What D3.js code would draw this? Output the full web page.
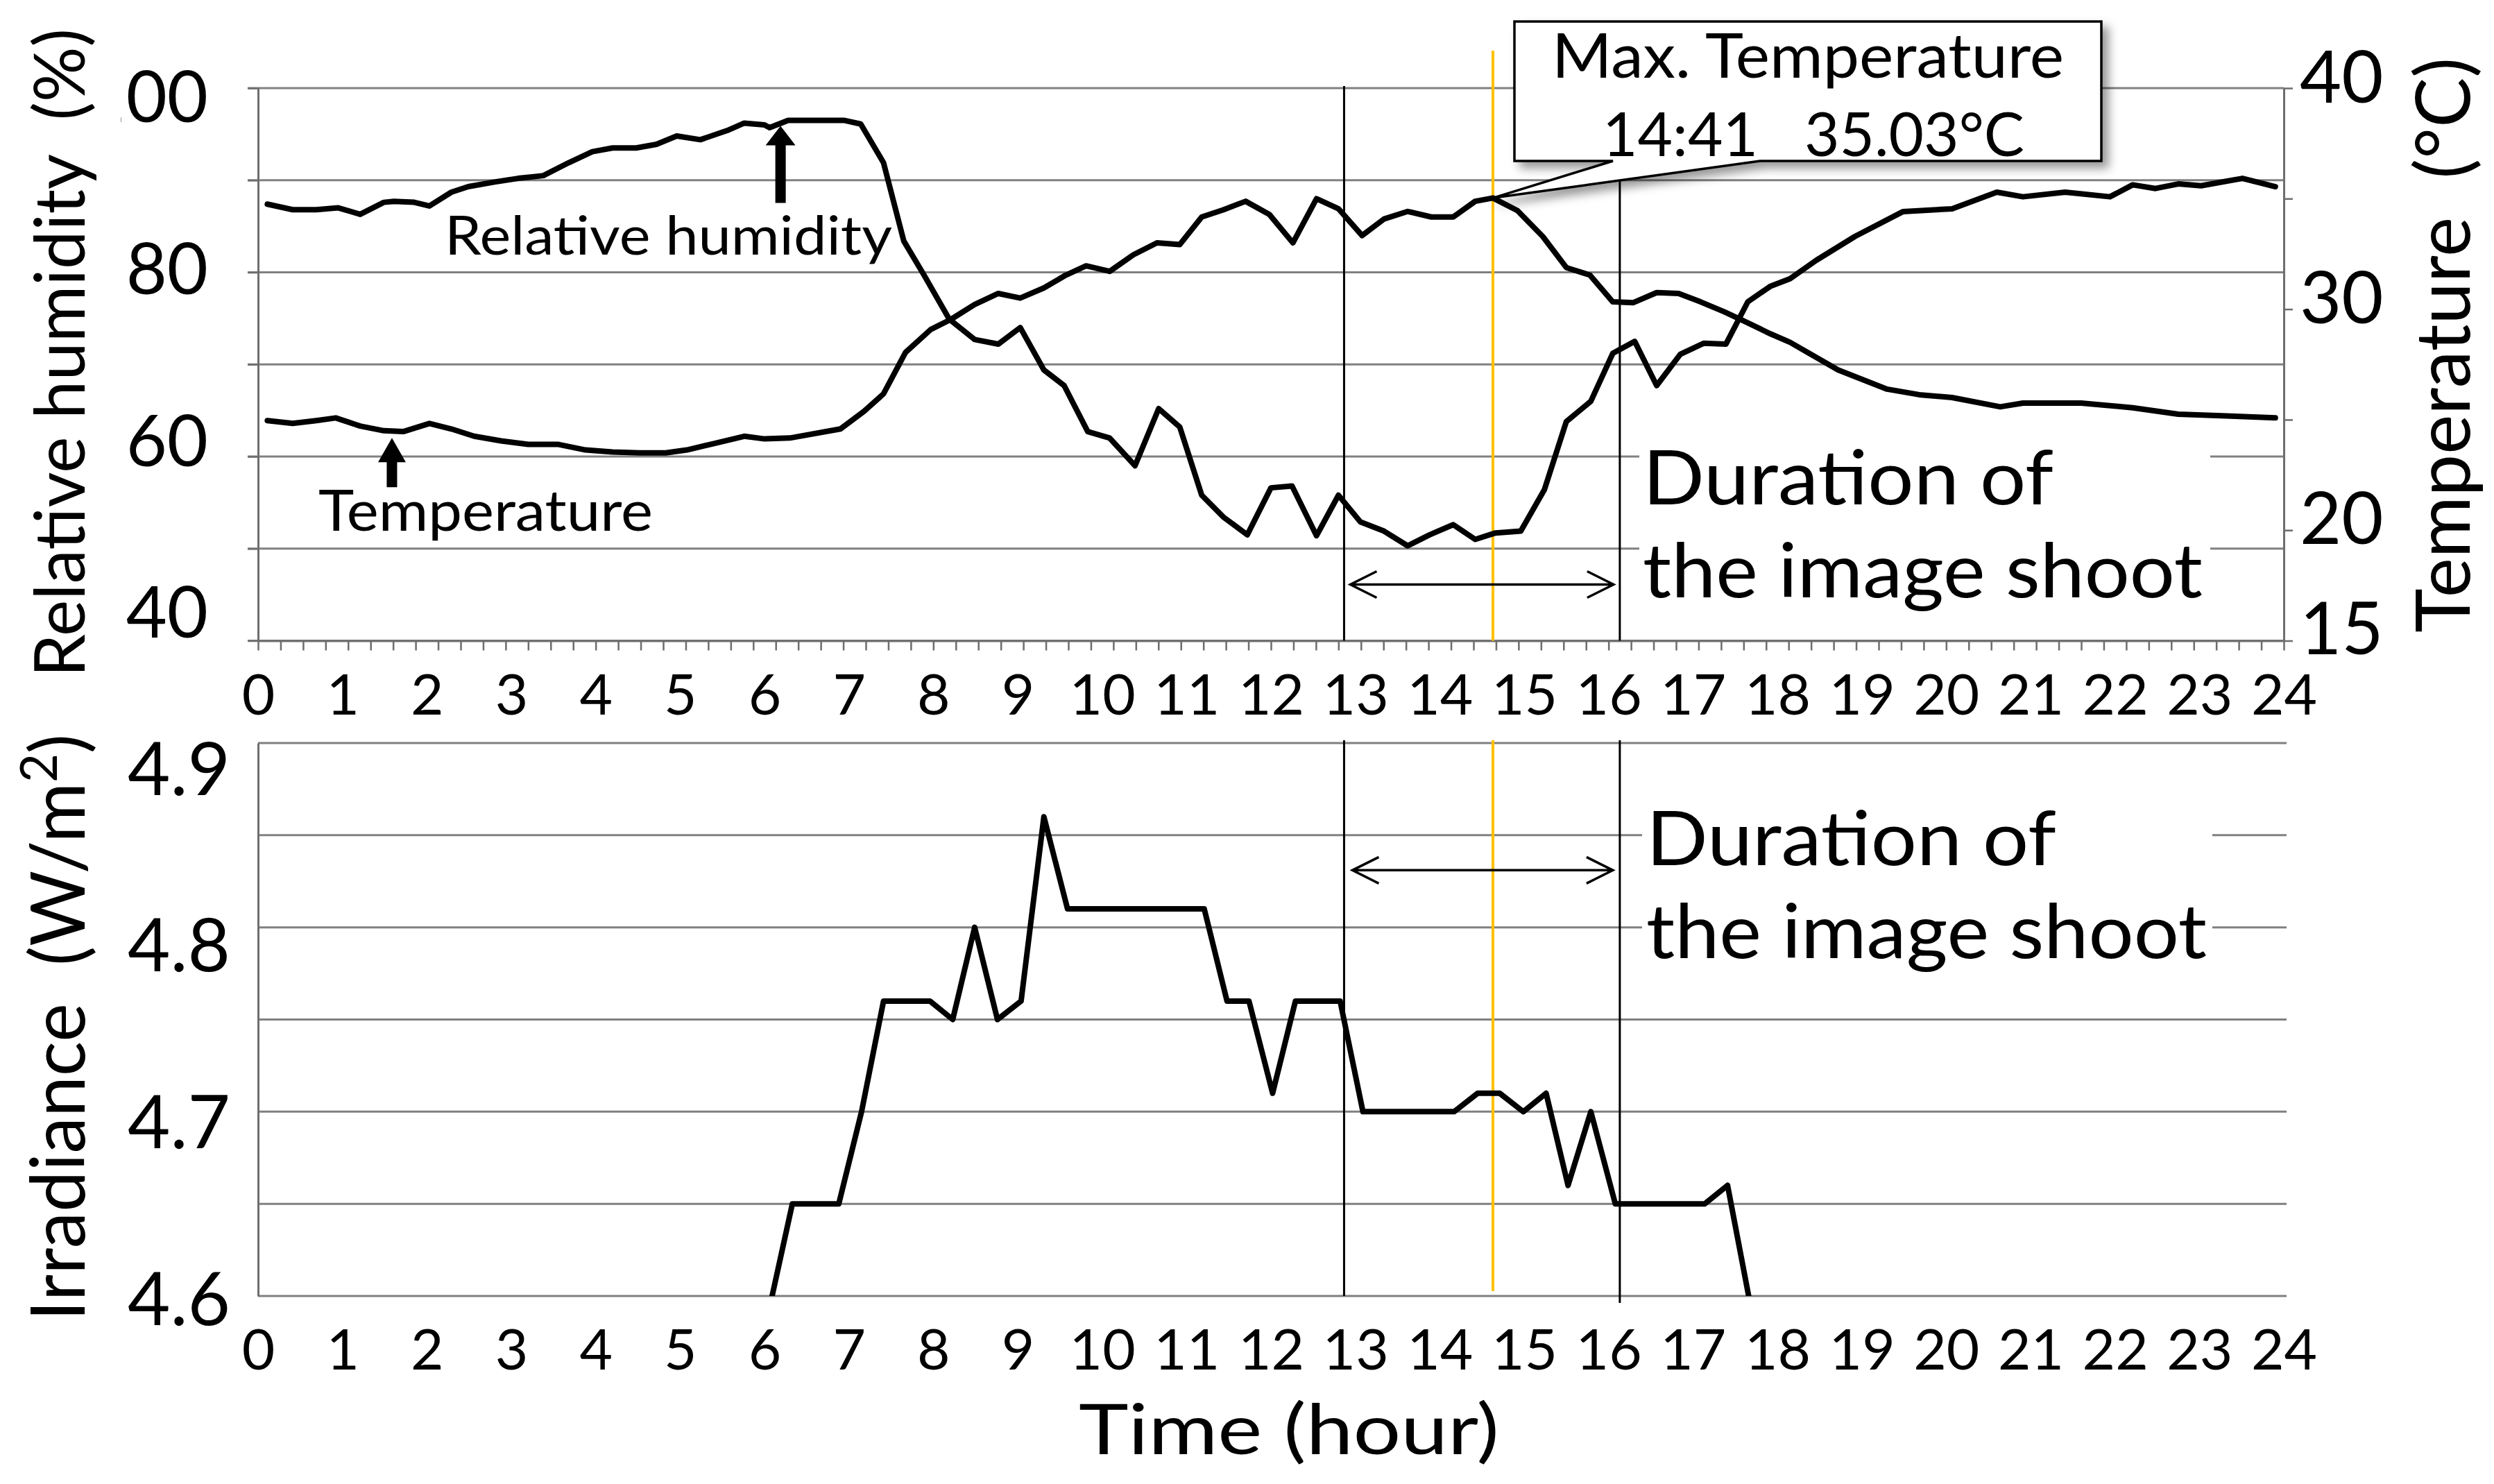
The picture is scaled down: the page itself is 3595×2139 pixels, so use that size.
<!DOCTYPE html>
<html><head><meta charset="utf-8">
<script src="https://cdn.jsdelivr.net/npm/d3@7"></script>
<style>
html,body{margin:0;padding:0;background:#fff;}
svg{display:block;}
text{font-family:Lato,"Noto Sans",sans-serif;fill:#000;}
</style></head><body>
<svg id="chart" width="3595" height="2139"></svg>
<script>
// ---------------- DATA ----------------
const rhTime  = [0.11,0.41,0.69,0.95,1.21,1.49,1.61,1.85,2.03,2.29,2.49,2.8,3.08,3.38,3.68,3.96,4.2,4.48,4.72,4.96,5.24,5.56,5.76,6.0,6.06,6.28,6.94,7.14,7.41,7.65,7.89,8.19,8.49,8.77,9.03,9.31,9.55,9.83,10.09,10.39,10.67,10.92,11.18,11.44,11.72,12.0,12.25,12.54,12.8,13.06,13.34,13.62,13.88,14.16,14.42,14.66,14.96,15.24,15.5,15.79,16.05,16.31,16.57,16.85,17.13,17.39,17.65,17.92,18.15,18.46,18.92,19.49,20.07,20.6,20.91,21.41,21.94,22.21,22.48,22.75,23.02,23.51,23.9];
const rhValue = [87.4,86.8,86.8,87.0,86.3,87.6,87.7,87.6,87.2,88.7,89.3,89.8,90.2,90.5,91.9,93.1,93.5,93.5,93.9,94.8,94.4,95.4,96.2,96.0,95.7,96.5,96.5,96.1,91.9,83.4,79.7,74.9,72.7,72.2,74.0,69.4,67.7,62.7,62.0,59.0,65.2,63.2,55.8,53.4,51.5,56.6,56.8,51.4,55.8,52.9,51.9,50.3,51.5,52.6,51.0,51.7,51.9,56.4,63.8,66.0,71.2,72.5,67.7,71.1,72.3,72.2,76.8,78.5,79.3,81.3,83.9,86.6,86.9,88.7,88.2,88.7,88.2,89.5,89.1,89.6,89.4,90.2,89.3];

const tempTime  = [0.11,0.41,0.69,0.92,1.21,1.49,1.72,2.03,2.29,2.56,2.88,3.2,3.56,3.88,4.2,4.52,4.83,5.08,5.4,5.76,6.0,6.3,6.9,7.18,7.41,7.67,7.97,8.21,8.49,8.77,9.03,9.31,9.57,9.81,10.09,10.37,10.65,10.92,11.18,11.44,11.7,11.98,12.26,12.54,12.8,13.08,13.34,13.62,13.9,14.16,14.42,14.63,14.92,15.22,15.5,15.78,16.05,16.29,16.57,16.83,17.09,17.37,17.65,17.92,18.15,18.72,19.3,19.68,20.07,20.64,20.91,21.6,22.21,22.75,23.32,23.9];
const tempValue = [24.96,24.83,24.96,25.08,24.71,24.5,24.46,24.83,24.58,24.25,24.04,23.88,23.88,23.63,23.54,23.5,23.5,23.63,23.92,24.25,24.13,24.17,24.58,25.38,26.17,28.04,29.08,29.54,30.21,30.71,30.5,30.96,31.54,31.96,31.71,32.46,33.0,32.92,34.17,34.5,34.88,34.29,33.0,35.0,34.54,33.33,34.08,34.42,34.17,34.17,34.88,35.03,34.46,33.29,31.88,31.54,30.33,30.29,30.75,30.71,30.33,29.88,29.38,28.88,28.5,27.25,26.38,26.13,26.0,25.58,25.75,25.75,25.54,25.25,25.17,25.08];

const irrTime  = [6.09,6.33,6.88,7.15,7.41,7.96,8.23,8.49,8.76,9.04,9.31,9.59,11.21,11.48,11.74,12.02,12.29,12.82,13.09,14.17,14.45,14.71,14.99,15.26,15.52,15.79,16.08,17.14,17.41,17.66];
const irrValue = [4.60,4.65,4.65,4.70,4.76,4.76,4.75,4.80,4.75,4.76,4.86,4.81,4.81,4.76,4.76,4.71,4.76,4.76,4.70,4.70,4.71,4.71,4.70,4.71,4.66,4.70,4.65,4.65,4.66,4.60];

const hourTicks  = d3.range(0, 25);
const minorTicks = d3.range(0, 24.001, 16/60);
const rhGrid     = [40,50,60,70,80,90,100];
const rhLabels   = [40,60,80,100];
const tempTicks  = [15,20,25,30,35,40];
const tempLabels = [15,20,30,40];
const irrGrid    = [4.6,4.65,4.7,4.75,4.8,4.85,4.9];
const irrLabels  = [4.6,4.7,4.8,4.9];

const shootStart = 12 + 52/60, shootEnd = 16 + 8/60;
const maxTime = 14.63, maxTemp = 35.03;
const maxLabel1 = "Max. Temperature", maxLabel2 = "14:41   35.03°C";
const rhArrow = {t: 6.19, v: 95.9}, tempArrow = {t: 1.586, v: 24.17};
const arrowRH = 46.1, arrowIrr = 4.831;

// ---------------- SETUP ----------------
const W = 3595, H = 2139;
const svg = d3.select("#chart");
svg.append("rect").attr("width", W).attr("height", H).attr("fill", "#fff");
const defs = svg.append("defs");
const flt = defs.append("filter").attr("id", "shadow").attr("x", "-10%").attr("y", "-20%").attr("width", "130%").attr("height", "170%");
flt.append("feDropShadow").attr("dx", 9).attr("dy", 9).attr("stdDeviation", 7).attr("flood-color", "#000").attr("flood-opacity", 0.4);
defs.append("clipPath").attr("id", "clipBottom").append("rect")
  .attr("x", 372).attr("y", 1071).attr("width", 2920).attr("height", 797);

const x   = d3.scaleLinear().domain([0, 24]).range([372, 3292]);
const yRH = d3.scaleLinear().domain([40, 100]).range([923.5, 127]);
const yT  = d3.scaleLinear().domain([15, 40]).range([923.5, 127]);
const yI  = d3.scaleLinear().domain([4.6, 4.9]).range([1868, 1071]);
// hand-placed label positions in the original, expressed as label scales
const yRHLab = yRH.copy().range([yRH(40) - 41.5, yRH(100) + 12]);
const yTLab  = yT.copy().range([yT(15) - 18.5, yT(40) - 17]);
const yILab  = yI.copy().range([yI(4.6) + 3, yI(4.9) + 36]);

const GRID = "#808080", AXIS = "#6e6e6e";

function styleAxis(g, color, w) {
  g.selectAll("path.domain").attr("stroke", color).attr("stroke-width", w);
  g.selectAll(".tick line").attr("stroke", color).attr("stroke-width", w * 0.85);
}
function textFit(g, txt, x0, y0, size, len, anchor) {
  return g.append("text").attr("x", x0).attr("y", y0).attr("font-size", size)
    .attr("text-anchor", anchor || "start").attr("textLength", len)
    .attr("lengthAdjust", "spacingAndGlyphs").style("white-space", "pre").text(txt);
}
function doubleArrow(g, x1, x2, y) {
  const hl = 38, hw = 19;
  g.append("path")
    .attr("d", `M${x1},${y}H${x2}M${x1 + hl},${y - hw}L${x1},${y}L${x1 + hl},${y + hw}M${x2 - hl},${y - hw}L${x2},${y}L${x2 - hl},${y + hw}`)
    .attr("fill", "none").attr("stroke", "#000").attr("stroke-width", 3.5);
}
function blockArrow(g, tx, ty, headLen, headHalf, shaftHalf, shaftLen) {
  const b = ty + headLen, e = b + shaftLen;
  g.append("path").attr("d",
    `M${tx},${ty}L${tx + headHalf},${b}L${tx + shaftHalf},${b}L${tx + shaftHalf},${e}L${tx - shaftHalf},${e}L${tx - shaftHalf},${b}L${tx - headHalf},${b}Z`)
    .attr("fill", "#000");
}

// ================= TOP PANEL =================
const topG = svg.append("g");

topG.append("g").selectAll("line").data(rhGrid).join("line")
  .attr("x1", x(0) - 15).attr("x2", x(24)).attr("y1", d => yRH(d)).attr("y2", d => yRH(d))
  .attr("stroke", GRID).attr("stroke-width", 3);

const gl = topG.append("g").attr("transform", `translate(${x(0)},0)`)
  .call(d3.axisLeft(yRH).tickValues(rhGrid).tickSize(15).tickSizeOuter(0).tickFormat(""));
styleAxis(gl, AXIS, 3);

const gll = topG.append("g").attr("transform", `translate(${x(0)},0)`)
  .call(d3.axisLeft(yRHLab).tickValues(rhLabels).tickSize(0).tickPadding(72));
gll.select(".domain").remove();
gll.selectAll("text").attr("font-size", 102).attr("dy", "0.36em").attr("fill", "#000").style("font-family", "Lato");

const gr = topG.append("g").attr("transform", `translate(${x(24)},0)`)
  .call(d3.axisRight(yT).tickValues(tempTicks).tickSize(13).tickSizeOuter(0).tickFormat(""));
styleAxis(gr, AXIS, 3);
const grl = topG.append("g").attr("transform", `translate(${x(24)},0)`)
  .call(d3.axisRight(yTLab).tickValues(tempLabels).tickSize(0).tickPadding(23));
grl.select(".domain").remove();
grl.selectAll("text").attr("font-size", 104).attr("dy", "0.36em").attr("fill", "#000").style("font-family", "Lato");

const gb = topG.append("g").attr("transform", `translate(0,${yRH(40)})`)
  .call(d3.axisBottom(x).tickValues(minorTicks).tickSize(14).tickSizeOuter(0).tickFormat(""));
styleAxis(gb, AXIS, 3);
const gbl = topG.append("g").attr("transform", `translate(0,${yRH(40)})`)
  .call(d3.axisBottom(x).tickValues(hourTicks).tickSize(0));
gbl.select(".domain").remove();
gbl.selectAll("text").attr("font-size", 82).attr("dy", null).attr("y", 106.5).attr("fill", "#000").style("font-family", "Lato");

// title background (hides the leading "1" as in the original) + titles
svg.append("rect").attr("x", 18).attr("y", 18).attr("width", 156).attr("height", 975).attr("fill", "#fff");
textFit(svg, "Relative humidity  (%)", 0, 0, 100, 935, "middle").attr("transform", "translate(122,508.5) rotate(-90)");
textFit(svg, "Temperature  (°C)", 0, 0, 108, 829, "middle").attr("transform", "translate(3560,497.5) rotate(-90)");

topG.append("rect").attr("x", 2363).attr("y", 625).attr("width", 823).attr("height", 280).attr("fill", "#fff");
textFit(topG, "Duration of", 2368, 727, 108, 592);
textFit(topG, "the image shoot", 2368, 861, 108, 807);

[shootStart, shootEnd].forEach(t => topG.append("line")
  .attr("x1", x(t)).attr("x2", x(t)).attr("y1", yRH(100) - 3).attr("y2", yRH(40))
  .attr("stroke", "#000").attr("stroke-width", 3));
topG.append("line").attr("x1", x(maxTime)).attr("x2", x(maxTime)).attr("y1", yRH(100) - 54).attr("y2", yRH(40))
  .attr("stroke", "#FFC000").attr("stroke-width", 4);

const lineRH = d3.line().x((d, i) => x(rhTime[i])).y(d => yRH(d));
const lineT  = d3.line().x((d, i) => x(tempTime[i])).y(d => yT(d));
topG.append("path").attr("d", lineRH(rhValue)).attr("fill", "none").attr("stroke", "#000")
  .attr("stroke-width", 8).attr("stroke-linejoin", "round").attr("stroke-linecap", "round");
topG.append("path").attr("d", lineT(tempValue)).attr("fill", "none").attr("stroke", "#000")
  .attr("stroke-width", 8).attr("stroke-linejoin", "round").attr("stroke-linecap", "round");

doubleArrow(topG, x(shootStart) + 9, x(shootEnd) - 9, yRH(arrowRH));

blockArrow(topG, x(rhArrow.t), yRH(rhArrow.v), 28, 21.5, 7.5, 83);
textFit(topG, "Relative humidity", 641, 366.7, 78, 645);
blockArrow(topG, x(tempArrow.t), yT(tempArrow.v), 35, 20, 7.5, 36);
textFit(topG, "Temperature", 459, 765, 81, 482);

const tipX = x(maxTime), tipY = yT(maxTemp);
const bx0 = 2183, bx1 = 3029, by0 = 31, by1 = 232, w0 = 2325, w1 = 2537;
topG.append("path")
  .attr("d", `M${bx0},${by0}H${bx1}V${by1}H${w1}L${tipX},${tipY}L${w0},${by1}H${bx0}Z`)
  .attr("fill", "#fff").attr("stroke", "#000").attr("stroke-width", 3.5)
  .attr("stroke-linejoin", "miter").attr("filter", "url(#shadow)");
textFit(topG, maxLabel1, 2237, 111.6, 89, 738);
textFit(topG, maxLabel2, 2310, 225, 88, 608);

// ================= BOTTOM PANEL =================
const botG = svg.append("g");
botG.append("g").selectAll("line").data(irrGrid).join("line")
  .attr("x1", x(0)).attr("x2", x(24) + 4).attr("y1", d => yI(d)).attr("y2", d => yI(d))
  .attr("stroke", GRID).attr("stroke-width", 3);

const bl = botG.append("g").attr("transform", `translate(${x(0)},0)`)
  .call(d3.axisLeft(yI).tickValues([]).tickSizeOuter(0));
styleAxis(bl, AXIS, 3);
const bll = botG.append("g").attr("transform", `translate(${x(0)},0)`)
  .call(d3.axisLeft(yILab).tickValues(irrLabels).tickSize(0).tickPadding(40).tickFormat(d3.format(".1f")));
bll.select(".domain").remove();
bll.selectAll("text").attr("font-size", 106).attr("dy", "0.36em").attr("fill", "#000").style("font-family", "Lato");

const bbl = botG.append("g").attr("transform", `translate(0,${yI(4.6)})`)
  .call(d3.axisBottom(x).tickValues(hourTicks).tickSize(0));
bbl.select(".domain").remove();
bbl.selectAll("text").attr("font-size", 82).attr("dy", null).attr("y", 106).attr("fill", "#000").style("font-family", "Lato");

const irrTitle = svg.append("text").attr("font-size", 108).attr("text-anchor", "middle")
  .attr("textLength", 846).attr("lengthAdjust", "spacingAndGlyphs").style("white-space", "pre")
  .attr("transform", "translate(122,1481) rotate(-90)");
irrTitle.append("tspan").text("Irradiance  (W/m");
irrTitle.append("tspan").attr("font-size", 74).attr("dy", -40).text("2");
irrTitle.append("tspan").attr("dy", 40).text(")");
textFit(svg, "Time (hour)", 1858, 2096, 100, 606, "middle");

botG.append("rect").attr("x", 2367).attr("y", 1100).attr("width", 822).attr("height", 350).attr("fill", "#fff");
textFit(botG, "Duration of", 2373, 1247, 108, 591);
textFit(botG, "the image shoot", 2373, 1381, 108, 808);

[shootStart, shootEnd].forEach(t => botG.append("line")
  .attr("x1", x(t)).attr("x2", x(t)).attr("y1", yI(4.9) - 4).attr("y2", yI(4.6) + (t === shootEnd ? 10 : 0))
  .attr("stroke", "#000").attr("stroke-width", 3));
botG.append("line").attr("x1", x(maxTime)).attr("x2", x(maxTime)).attr("y1", yI(4.9) - 4).attr("y2", yI(4.6) - 7)
  .attr("stroke", "#FFC000").attr("stroke-width", 4);

const lineI = d3.line().x((d, i) => x(irrTime[i])).y(d => yI(d));
botG.append("path").attr("d", lineI(irrValue)).attr("clip-path", "url(#clipBottom)")
  .attr("fill", "none").attr("stroke", "#000").attr("stroke-width", 8)
  .attr("stroke-linejoin", "round").attr("stroke-linecap", "round");

doubleArrow(botG, x(shootStart) + 12, x(shootEnd) - 10, yI(arrowIrr));
</script>
</body></html>
